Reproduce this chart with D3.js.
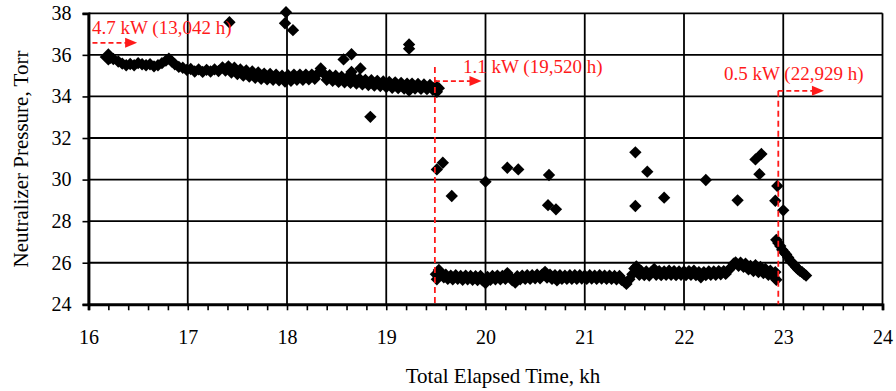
<!DOCTYPE html>
<html>
<head>
<meta charset="utf-8">
<script src="https://cdnjs.cloudflare.com/ajax/libs/d3/7.8.5/d3.min.js"></script>
<style>
 body { margin: 0; background: #fff; }
 text { font-family: "Liberation Serif", "Times New Roman", serif; }
</style>
</head>
<body>
<div id="chart"></div>
<script>
// ---- data (kh, Torr) ----

// 4.7 kW operation, main band
var band47 = [
 [16.20,35.90],[16.22,35.86],[16.25,35.80],[16.30,35.68],[16.34,35.58],[16.38,35.50],[16.42,35.56],
 [16.46,35.50],[16.50,35.60],[16.54,35.55],[16.58,35.50],[16.62,35.55],[16.66,35.45],[16.70,35.50],
 [16.74,35.60],[16.78,35.72],[16.81,35.82],[16.84,35.68],[16.87,35.55],[16.91,35.42],[16.95,35.38],
 [16.99,35.28],[17.03,35.32],[17.07,35.20],[17.11,35.30],[17.15,35.18],[17.19,35.28],[17.23,35.20],
 [17.27,35.30],[17.31,35.22],[17.35,35.40],[17.38,35.25],[17.41,35.45],[17.44,35.15],[17.47,35.38],
 [17.50,35.08],[17.53,35.30],[17.56,35.00],[17.59,35.25],[17.62,34.95],[17.65,35.20],[17.68,34.90],
 [17.71,35.15],[17.74,34.85],[17.77,35.10],[17.80,34.82],[17.83,35.08],[17.86,34.80],[17.89,35.05],
 [17.92,34.78],[17.95,35.00],[17.98,34.72],[18.01,35.02],[18.04,34.75],[18.07,35.05],[18.10,34.80],
 [18.13,35.05],[18.16,34.80],[18.19,35.05],[18.22,34.82],[18.25,35.05],[18.28,34.85],[18.31,35.10],
 [18.34,35.35],[18.37,35.10],[18.40,34.80],[18.43,35.02],[18.46,34.75],[18.49,35.00],[18.52,34.70],
 [18.55,34.95],[18.58,34.68],[18.61,34.92],[18.64,34.65],[18.67,34.90],[18.70,34.62],[18.73,34.85],
 [18.76,34.58],[18.79,34.80],[18.82,34.55],[18.85,34.78],[18.88,34.52],[18.91,34.75],[18.94,34.50],
 [18.97,34.72],[19.00,34.45],[19.03,34.70],[19.06,34.42],[19.09,34.68],[19.12,34.40],[19.15,34.65],
 [19.18,34.38],[19.21,34.62],[19.23,34.28],[19.26,34.62],[19.29,34.38],[19.32,34.60],[19.35,34.36],
 [19.38,34.58],[19.41,34.35],[19.44,34.55],[19.47,34.32],[19.50,34.50],[19.51,34.22],[19.53,34.40]
];
// 4.7 kW, scattered readings
var scatter47 = [
 [17.42,37.57],[17.99,38.05],[17.98,37.52],[18.06,37.19],[18.57,35.78],[18.65,36.03],
 [18.74,35.35],[18.65,35.18],[18.84,33.02],[19.23,36.50],[19.23,36.30]
];

// 1.1 kW operation, main band
var band11 = [
 [19.50,25.45],[19.51,25.20],[19.53,25.65],[19.55,25.50],[19.58,25.30],[19.60,25.42],[19.62,25.22],
 [19.65,25.38],[19.67,25.20],[19.70,25.40],[19.72,25.22],[19.75,25.36],[19.77,25.18],[19.80,25.38],
 [19.82,25.20],[19.85,25.36],[19.87,25.18],[19.90,25.35],[19.92,25.16],[19.95,25.36],[19.97,25.15],
 [20.00,25.02],[20.02,25.32],[20.05,25.18],[20.07,25.36],[20.10,25.20],[20.12,25.38],[20.15,25.20],
 [20.17,25.36],[20.20,25.22],[20.22,25.50],[20.25,25.30],[20.27,25.15],[20.30,25.05],[20.32,25.35],
 [20.35,25.20],[20.37,25.38],[20.40,25.22],[20.42,25.40],[20.45,25.22],[20.47,25.40],[20.50,25.25],
 [20.52,25.42],[20.55,25.25],[20.57,25.42],[20.60,25.56],[20.62,25.28],[20.65,25.42],[20.67,25.22],
 [20.70,25.40],[20.72,25.15],[20.75,25.40],[20.77,25.22],[20.80,25.38],[20.82,25.22],[20.85,25.40],
 [20.87,25.22],[20.90,25.40],[20.92,25.22],[20.95,25.40],[20.97,25.24],[21.00,25.38],[21.02,25.22],
 [21.05,25.40],[21.07,25.24],[21.10,25.38],[21.12,25.22],[21.15,25.40],[21.17,25.24],[21.20,25.38],
 [21.22,25.22],[21.25,25.38],[21.27,25.22],[21.30,25.36],[21.32,25.20],[21.35,25.36],[21.37,25.18],
 [21.40,25.08],[21.42,24.98],[21.45,25.20],[21.48,25.45],[21.50,25.72],[21.52,25.82],[21.55,25.42],
 [21.57,25.60],[21.60,25.40],[21.62,25.58],[21.65,25.38],[21.67,25.55],[21.70,25.70],[21.72,25.42],
 [21.75,25.60],[21.77,25.40],[21.80,25.58],[21.82,25.42],[21.85,25.62],[21.87,25.42],[21.90,25.60],
 [21.92,25.40],[21.95,25.58],[21.97,25.42],[22.00,25.58],[22.02,25.40],[22.05,25.60],[22.07,25.42],
 [22.10,25.62],[22.12,25.40],[22.15,25.55],[22.17,25.30],[22.20,25.55],[22.22,25.40],[22.25,25.58],
 [22.27,25.42],[22.30,25.58],[22.32,25.42],[22.35,25.60],[22.37,25.44],[22.40,25.60],[22.42,25.46],
 [22.45,25.65],[22.47,25.75],[22.50,25.95],[22.52,26.02],[22.55,25.85],[22.57,26.00],[22.60,25.80],
 [22.62,25.95],[22.65,25.68],[22.67,25.85],[22.70,25.60],[22.72,25.88],[22.75,25.55],[22.77,25.80],
 [22.80,25.50],[22.82,25.70],[22.85,25.42],[22.87,25.62],[22.90,25.35],[22.92,25.55],[22.93,25.18]
];
// 1.1 kW, scattered readings
var scatter11 = [
 [19.51,30.49],[19.57,30.81],[19.66,29.21],[20.00,29.90],[20.22,30.57],[20.33,30.49],[20.64,30.22],
 [20.63,28.77],[20.71,28.57],[21.51,31.31],[21.63,30.38],[21.51,28.73],[21.80,29.13],[22.22,29.98],
 [22.54,29.00],[22.72,30.97],[22.78,31.23],[22.76,30.26],[22.94,29.69],[22.92,28.98],[23.00,28.52]
];

// 0.5 kW operation
var band05 = [
 [22.93,27.10],[22.95,26.95],[22.97,26.80],[22.99,26.62],[23.01,26.50],[23.03,26.40],[23.05,26.25],
 [23.07,26.10],[23.09,26.00],[23.11,25.90],[23.13,25.78],[23.15,25.68],[23.17,25.60],[23.19,25.55],
 [23.21,25.45],[23.23,25.38]
];

// power level changes: label, start (kh), end of arrow (kh), arrow level (Torr)
var stepLabels = ['4.7 kW (13,042 h)', '1.1 kW (19,520 h)', '0.5 kW (22,929 h)'];
var stepStart = [16.04, 19.49, 22.95];
var stepArrowEnd = [16.49, 19.96, 23.41];
var stepArrowY = [36.58, 34.74, 34.27];

var xTicks = [16, 17, 18, 19, 20, 21, 22, 23, 24];
var yTicks = [24, 26, 28, 30, 32, 34, 36, 38];

// ---- layout ----
var graphicAtt = {};
graphicAtt.width = 896;
graphicAtt.height = 391;
graphicAtt.left = 88.5;
graphicAtt.right = 882.5;
graphicAtt.top = 13.3;
graphicAtt.bottom = 304.3;
graphicAtt.red = '#ff1a1a';
graphicAtt.font = '"Liberation Serif", "Times New Roman", serif';

var svg = d3.select('#chart').append('svg')
 .attr('width', graphicAtt.width)
 .attr('height', graphicAtt.height);

var x = d3.scaleLinear().domain([16, 24]).range([graphicAtt.left, graphicAtt.right]);
var y = d3.scaleLinear().domain([24, 38]).range([graphicAtt.bottom, graphicAtt.top]);

// grid (major only)
var grid = svg.append('g').attr('class', 'grid');
grid.selectAll('line.gx').data(xTicks).enter().append('line')
 .attr('x1', d => x(d)).attr('x2', d => x(d))
 .attr('y1', y(38)).attr('y2', y(24))
 .attr('stroke', '#000').attr('stroke-width', 1.8);
grid.selectAll('line.gy').data(yTicks).enter().append('line')
 .attr('x1', x(16)).attr('x2', x(24))
 .attr('y1', d => y(d)).attr('y2', d => y(d))
 .attr('stroke', '#000').attr('stroke-width', 1.8);

// markers: black diamonds (square turned 45 deg)
var diamond = d3.symbol().type(d3.symbolSquare).size(76);
var allPoints = [].concat(band47, scatter47, band11, scatter11, band05);
svg.append('g').attr('class', 'points')
 .selectAll('path').data(allPoints).enter().append('path')
 .attr('d', diamond)
 .attr('transform', d => 'translate(' + x(d[0]) + ',' + y(d[1]) + ') rotate(45)')
 .attr('fill', '#000');
// first reading is drawn larger in the source
svg.append('path')
 .attr('d', d3.symbol().type(d3.symbolSquare).size(150))
 .attr('transform', 'translate(' + x(band47[0][0]) + ',' + y(band47[0][1]) + ') rotate(45)')
 .attr('fill', '#000');

// axes
var xAxis = d3.axisBottom(x).tickValues(d3.range(16, 24.01, 0.2)).tickSize(6).tickPadding(20)
 .tickFormat(d => Math.abs(d - Math.round(d)) < 1e-6 ? d3.format('d')(Math.round(d)) : '');
var gx = svg.append('g').attr('transform', 'translate(0,' + graphicAtt.bottom + ')').call(xAxis);
var yAxis = d3.axisLeft(y).tickValues(yTicks).tickSize(6).tickPadding(11);
var gy = svg.append('g').attr('transform', 'translate(' + graphicAtt.left + ',0)').call(yAxis);

[gx, gy].forEach(function(g)
{
 g.attr('font-family', graphicAtt.font).attr('font-size', 20);
 g.select('.domain').attr('stroke', '#000').attr('stroke-width', 2.8);
 g.selectAll('.tick line').attr('stroke', '#000').attr('stroke-width', 1.6);
 g.selectAll('.tick text').attr('fill', '#000');
});

// axis titles
svg.append('text')
 .attr('x', 503).attr('y', 383)
 .attr('text-anchor', 'middle')
 .style('font-size', '21px')
 .text('Total Elapsed Time, kh');
svg.append('text')
 .attr('transform', 'translate(28,' + 159 + ') rotate(-90)')
 .attr('text-anchor', 'middle')
 .style('font-size', '21px')
 .text('Neutralizer Pressure, Torr');

// red annotations: dashed step line, dashed arrow and label
var ann = svg.append('g').attr('class', 'annotations');
var steps = stepLabels.map((s, i) => ({label: s, x0: stepStart[i], x1: stepArrowEnd[i], yv: stepArrowY[i]}));

steps.forEach(function(s, i)
{
 var ya = y(s.yv);
 if(i > 0)
 {
  ann.append('line')
   .attr('x1', x(s.x0)).attr('x2', x(s.x0))
   .attr('y1', ya - (i == 1 ? 14 : 0)).attr('y2', y(24))
   .attr('stroke', graphicAtt.red).attr('stroke-width', 1.8)
   .attr('stroke-dasharray', '6,4');
 }
 var tip = x(s.x1);
 ann.append('line')
  .attr('x1', x(s.x0)).attr('x2', tip - 10)
  .attr('y1', ya).attr('y2', ya)
  .attr('stroke', graphicAtt.red).attr('stroke-width', 1.8)
  .attr('stroke-dasharray', '5,3');
 ann.append('path')
  .attr('d', 'M' + tip + ',' + ya + 'L' + (tip - 12) + ',' + (ya - 5) + 'L' + (tip - 12) + ',' + (ya + 5) + 'Z')
  .attr('fill', graphicAtt.red);
});

ann.selectAll('text').data(steps).enter().append('text')
 .attr('x', (d, i) => [92, 463, 724][i])
 .attr('y', (d, i) => [34, 73, 80][i])
 .attr('fill', graphicAtt.red)
 .style('font-size', '19px')
 .text(d => d.label);
</script>
</body>
</html>
